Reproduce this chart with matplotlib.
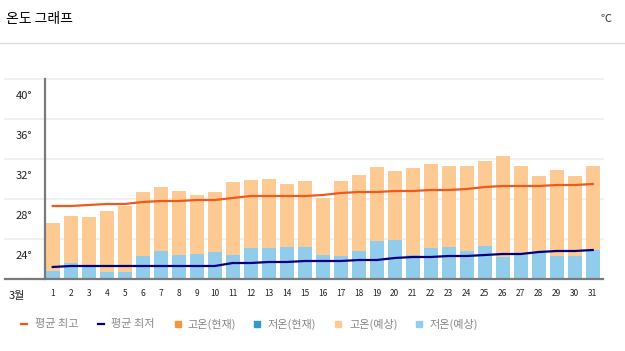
import numpy as np
import matplotlib
matplotlib.use("Agg")
import matplotlib.pyplot as plt
from matplotlib.transforms import ScaledTranslation, blended_transform_factory
from matplotlib.patches import Rectangle
from matplotlib.lines import Line2D

plt.rcParams['font.family'] = ['Noto Sans CJK KR', 'DejaVu Sans']

days = np.arange(1, 32)
high_forecast = [27.6, 28.3, 28.2, 28.8, 29.3, 30.7, 31.2, 30.8, 30.4, 30.7,
                 31.7, 31.9, 32.0, 31.5, 31.8, 30.1, 31.8, 32.4, 33.2, 32.8,
                 33.1, 33.5, 33.3, 33.3, 33.8, 34.3, 33.3, 32.3, 32.9, 32.3, 33.3]
low_forecast = [22.8, 23.6, 23.3, 22.7, 22.7, 24.3, 24.8, 24.4, 24.5, 24.7,
                24.4, 25.1, 25.1, 25.2, 25.2, 24.4, 24.3, 24.8, 25.8, 25.9,
                24.4, 25.1, 25.2, 24.8, 25.3, 24.2, 24.4, 24.6, 24.3, 24.3, 24.9]
avg_high = [29.3, 29.3, 29.4, 29.5, 29.5, 29.7, 29.8, 29.8, 29.9, 29.9,
            30.1, 30.3, 30.3, 30.3, 30.3, 30.4, 30.6, 30.7, 30.7, 30.8,
            30.8, 30.9, 30.9, 31.0, 31.2, 31.3, 31.3, 31.3, 31.4, 31.4, 31.5]
avg_low = [23.2, 23.3, 23.3, 23.3, 23.3, 23.3, 23.3, 23.3, 23.3, 23.3,
           23.6, 23.6, 23.7, 23.7, 23.8, 23.8, 23.8, 23.9, 23.9, 24.1,
           24.2, 24.2, 24.3, 24.3, 24.4, 24.5, 24.5, 24.7, 24.8, 24.8, 24.9]
y_ticks = [24, 28, 32, 36, 40]
legend_labels = ["평균 최고", "평균 최저", "고온(현재)", "저온(현재)", "고온(예상)", "저온(예상)"]

c_avg_high = "#EE5A1E"
c_avg_low = "#00007F"
c_high_now = "#F7953F"
c_low_now = "#3299D0"
c_high_fc = "#FDCA94"
c_low_fc = "#92CCEB"

W, H = 625, 351
fig = plt.figure(figsize=(W / 100, H / 100), dpi=100)
ax = fig.add_axes([45 / W, (H - 279) / H, (603 - 45) / W, 200 / H])

base = 22
ax.bar(days, np.array(high_forecast) - base, bottom=base, width=0.76,
       color=c_high_fc, zorder=2)
ax.bar(days, np.array(low_forecast) - base, bottom=base, width=0.76,
       color=c_low_fc, zorder=3)
ax.plot(days, avg_high, color=c_avg_high, lw=1.6, zorder=4)
ax.plot(days, avg_low, color=c_avg_low, lw=1.6, zorder=4)

ax.set_xlim(0.57, 31.57)
ax.set_ylim(22, 42)

# gridlines extending under the labels
tr = blended_transform_factory(ax.transAxes, ax.transData)
for g in [26, 30, 34, 38, 42]:
    ax.plot([-40 / 558, 1], [g, g], color="#EEEEEE", lw=1.2,
            transform=tr, clip_on=False, zorder=0)
ax.plot([-40 / 558, 1], [22, 22], color="#7A7A7A", lw=1.6,
        transform=tr, clip_on=False, zorder=5)

for s in ax.spines.values():
    s.set_visible(False)
ax.plot([0, 0], [22, 42], color="#7A7A7A", lw=1.6, transform=tr,
        clip_on=False, zorder=5)

ax.set_yticks(y_ticks)
ax.set_yticklabels([f"{t}°" for t in y_ticks], fontsize=8, color="#222222")
ax.tick_params(axis='y', length=0, pad=9)
off = ScaledTranslation(0, 4 / 100, fig.dpi_scale_trans)
for lab in ax.get_yticklabels():
    lab.set_transform(lab.get_transform() + off)

ax.set_xticks(days)
ax.set_xticklabels([str(d) for d in days], fontsize=6, color="#222222")
ax.tick_params(axis='x', length=0, pad=7)

fig.text(9 / W, 1 - 296 / H, "3월", fontsize=8, color="#222222", va="center")

# header
fig.text(6 / W, 1 - 19 / H, "온도 그래프", fontsize=10, color="#000000", va="center")
fig.text(612 / W, 1 - 19 / H, "℃", fontsize=8, color="#333333", va="center", ha="right")
fig.add_artist(Line2D([0, 1], [1 - 43 / H, 1 - 43 / H], color="#DDDDDD", lw=1,
                      transform=fig.transFigure))

# legend
legend_colors = [c_avg_high, c_avg_low, c_high_now, c_low_now, c_high_fc, c_low_fc]
marker_x = [21, 98, 175, 254, 335, 416]
text_x = [35, 111, 187, 268, 349, 430]
ly = 1 - 324 / H
for i, (lab, col) in enumerate(zip(legend_labels, legend_colors)):
    if i < 2:
        fig.add_artist(Line2D([marker_x[i] / W, (marker_x[i] + 6) / W], [ly, ly],
                              color=col, lw=1.6, transform=fig.transFigure))
    else:
        fig.add_artist(Rectangle((marker_x[i] / W, ly - 3 / H), 6 / W, 6 / H,
                                 color=col, transform=fig.transFigure))
    fig.text(text_x[i] / W, ly, lab, fontsize=8, color="#888888", va="center")

fig.savefig("out.png", dpi=100)
